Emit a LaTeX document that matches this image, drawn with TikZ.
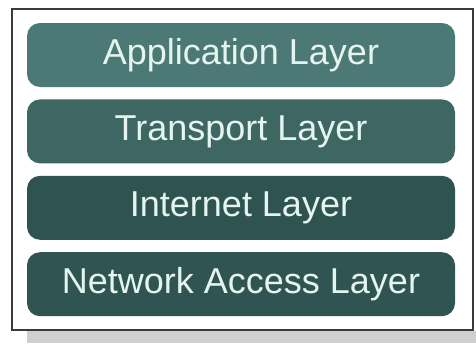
\documentclass[tikz,border=0pt]{standalone}
\usepackage{fontspec}
\setmainfont{Liberation Sans}
\usetikzlibrary{positioning}

\definecolor{apptop}{HTML}{4C7975}
\definecolor{transp}{HTML}{3E6764}
\definecolor{inet}{HTML}{2F5350}
\definecolor{netacc}{HTML}{2F5451}
\definecolor{layertext}{HTML}{E4F4EE}
\definecolor{framegray}{HTML}{3A3A3A}
\definecolor{shadowgray}{HTML}{CFCFCF}

\tikzset{
  layer/.style={rectangle, rounded corners=13pt, minimum width=428pt, minimum height=64pt,
    text=layertext, font=\fontsize{36}{40}\selectfont, inner sep=0pt}
}

\begin{document}
\begin{tikzpicture}[x=1pt, y=-1pt]
\useasboundingbox (0,0) rectangle (476,343);
% shadow and frame
\fill[shadowgray] (27,331) rectangle (476,343);
\draw[framegray, line width=1.5pt, fill=white] (12,9) rectangle (473,330);

% layers
\node[layer, fill=apptop] (app) at (241,55) {Application Layer};
\node[layer, fill=transp, below=12pt of app] (trans) {Transport Layer};
\node[layer, fill=inet, below=12pt of trans] (inet) {Internet Layer};
\node[layer, fill=netacc, below=12pt of inet] (net) {Network Access Layer};
\end{tikzpicture}
\end{document}
